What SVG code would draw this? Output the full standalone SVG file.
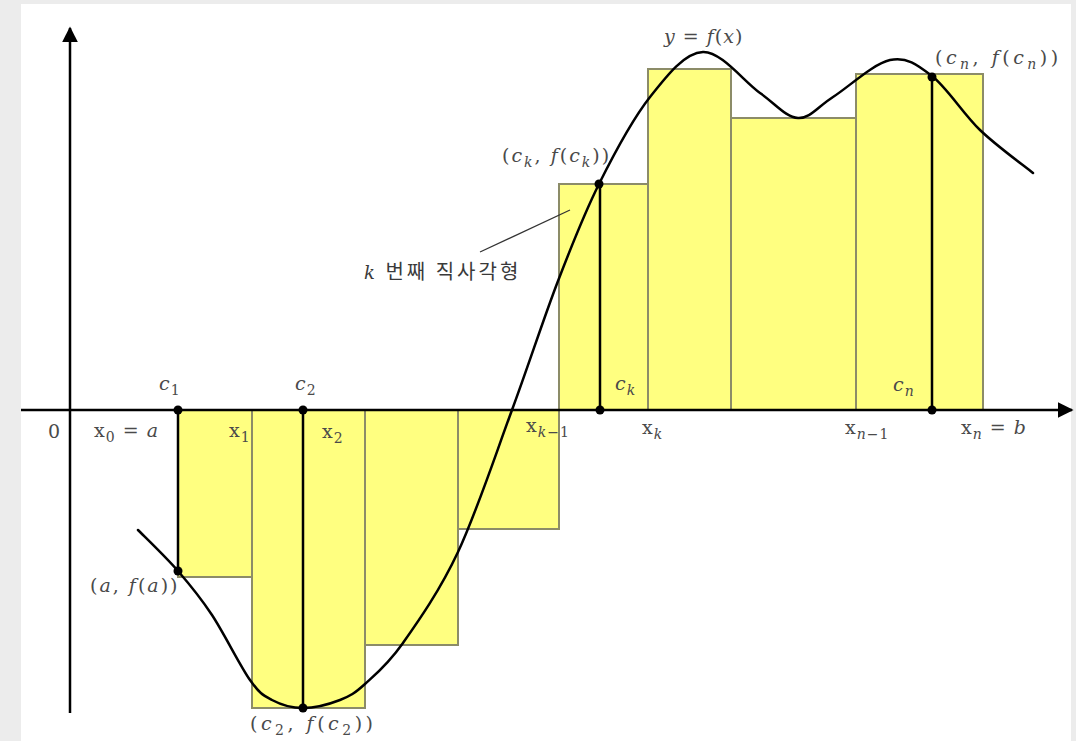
<svg xmlns="http://www.w3.org/2000/svg" width="1076" height="741" viewBox="0 0 1076 741">
<style>
.rect{fill:#ffff80;stroke:#8c8c68;stroke-width:2}
.axis{stroke:#000;stroke-width:2.5;fill:none}
.vl{stroke:#000;stroke-width:2.5}
.curve{fill:none;stroke:#000;stroke-width:2.5;stroke-linecap:round}
.dot{fill:#000}
.lbl{font-family:"DejaVu Serif","Liberation Serif",serif;font-size:19px;fill:#4a4a4a;letter-spacing:1px}
.pt{letter-spacing:2px}
.pt3{letter-spacing:3.5px}
.it{font-style:italic}
.sub{font-size:14px}
.kor{font-family:"Noto Sans CJK KR","Noto Sans",sans-serif;font-size:20px;fill:#3a3a3a;letter-spacing:3px}
.lead{stroke:#333;stroke-width:1.3}
</style>
<defs>
<marker id="arr" viewBox="0 0 10 10" refX="9" refY="5" markerWidth="16" markerHeight="16" markerUnits="userSpaceOnUse" orient="auto">
<path d="M0,0 L10,5 L0,10 Z" fill="#000"/>
</marker>
</defs>
<rect x="0" y="0" width="1076" height="741" fill="#ececec"/>
<rect x="21" y="4" width="1050" height="737" fill="#ffffff"/>
<g id="rectangles">
<rect class="rect" x="178" y="410" width="74" height="167"/>
<rect class="rect" x="252" y="410" width="113" height="298"/>
<rect class="rect" x="365" y="410" width="93" height="235"/>
<rect class="rect" x="458" y="410" width="101" height="119"/>
<rect class="rect" x="559" y="184" width="89" height="226"/>
<rect class="rect" x="648" y="69" width="83" height="341"/>
<rect class="rect" x="731" y="118" width="125" height="292"/>
<rect class="rect" x="856" y="74" width="127" height="336"/>
</g>
<g id="axes">
<line class="axis" x1="21" y1="410" x2="1072" y2="410" marker-end="url(#arr)"/>
<line class="axis" x1="70" y1="713" x2="70" y2="28" marker-end="url(#arr)"/>
</g>
<g id="verticals">
<line class="vl" x1="178" y1="410" x2="178" y2="571"/>
<line class="vl" x1="303" y1="410" x2="303" y2="708"/>
<line class="vl" x1="600" y1="184" x2="600" y2="410"/>
<line class="vl" x1="932" y1="77" x2="932" y2="410"/>
</g>
<g id="curve">
<path class="curve" d="M138,530 C144.7,536.8 165.7,556.8 178,571 C190.3,585.2 200,596.8 212,615 C224,633.2 240,665.8 250,680 C260,694.2 263.2,695.3 272,700 C280.8,704.7 291.7,708 303,708 C314.3,708 329.7,704 340,700 C350.3,696 354.5,693.5 365,684 C375.5,674.5 387.5,665 403,643 C418.5,621 439.8,590.8 458,552 C476.2,513.2 495.3,455.2 512,410 C528.7,364.8 543.5,318.7 558,281 C572.5,243.3 583.7,214.7 599,184 C614.3,153.3 632.7,119 650,97 C667.3,75 684.7,52.7 703,52 C721.3,51.3 744.2,82 760,93 C775.8,104 785.8,117.3 798,118 C810.2,118.7 817.7,106.7 833,97 C848.3,87.3 873.5,63.5 890,60 C906.5,56.5 917,64.3 932,76 C947,87.7 963.2,113.8 980,130 C996.8,146.2 1024.2,165.8 1033,173"/>
</g>
<g id="points">
<circle class="dot" cx="178" cy="410" r="4.5"/>
<circle class="dot" cx="303" cy="410" r="4.5"/>
<circle class="dot" cx="600" cy="410" r="4.5"/>
<circle class="dot" cx="932" cy="410" r="4.5"/>
<circle class="dot" cx="178" cy="571" r="4.5"/>
<circle class="dot" cx="303" cy="708" r="4.5"/>
<circle class="dot" cx="599" cy="184" r="4.5"/>
<circle class="dot" cx="932" cy="77" r="4.5"/>
</g>
<g id="connectors">
<line class="lead" x1="480" y1="252" x2="570" y2="210"/>
</g>
<g id="labels">
<text class="lbl" x="48" y="438">0</text>
<text class="lbl" x="94" y="437">x<tspan class="sub" dy="5">0</tspan><tspan dy="-5"> = </tspan><tspan class="it">a</tspan></text>
<text class="lbl" x="229" y="437">x<tspan class="sub" dy="5">1</tspan></text>
<text class="lbl" x="322" y="438">x<tspan class="sub" dy="5">2</tspan></text>
<text class="lbl" x="526" y="432">x<tspan class="sub it" dy="5">k</tspan><tspan class="sub">−1</tspan></text>
<text class="lbl" x="642" y="434">x<tspan class="sub it" dy="5">k</tspan></text>
<text class="lbl" x="845" y="434">x<tspan class="sub it" dy="5">n</tspan><tspan class="sub">−1</tspan></text>
<text class="lbl" x="961" y="434">x<tspan class="sub it" dy="5">n</tspan><tspan dy="-5"> = </tspan><tspan class="it">b</tspan></text>
<text class="lbl it" x="159" y="390">c<tspan class="sub" dy="5" font-style="normal">1</tspan></text>
<text class="lbl it" x="295" y="390">c<tspan class="sub" dy="5" font-style="normal">2</tspan></text>
<text class="lbl it" x="615" y="390">c<tspan class="sub" dy="5">k</tspan></text>
<text class="lbl it" x="893" y="391">c<tspan class="sub" dy="5">n</tspan></text>
<text class="lbl" x="664" y="43"><tspan class="it">y</tspan> = <tspan class="it">f</tspan>(<tspan class="it">x</tspan>)</text>
<text class="lbl pt3" x="935" y="64">(<tspan class="it">c</tspan><tspan class="sub it" dy="5">n</tspan><tspan dy="-5">, </tspan><tspan class="it">f</tspan>(<tspan class="it">c</tspan><tspan class="sub it" dy="5">n</tspan><tspan dy="-5">))</tspan></text>
<text class="lbl pt" x="502" y="162">(<tspan class="it">c</tspan><tspan class="sub it" dy="5">k</tspan><tspan dy="-5">, </tspan><tspan class="it">f</tspan>(<tspan class="it">c</tspan><tspan class="sub it" dy="5">k</tspan><tspan dy="-5">))</tspan></text>
<text class="lbl pt" x="90" y="592">(<tspan class="it">a</tspan>, <tspan class="it">f</tspan>(<tspan class="it">a</tspan>))</text>
<text class="lbl pt3" x="250" y="730">(<tspan class="it">c</tspan><tspan class="sub" dy="5">2</tspan><tspan dy="-5">, </tspan><tspan class="it">f</tspan>(<tspan class="it">c</tspan><tspan class="sub" dy="5">2</tspan><tspan dy="-5">))</tspan></text>
<text class="kor" x="364" y="279"><tspan class="it" font-family="DejaVu Serif, serif" font-size="18">k</tspan> 번째  직사각형</text>
</g>
</svg>
